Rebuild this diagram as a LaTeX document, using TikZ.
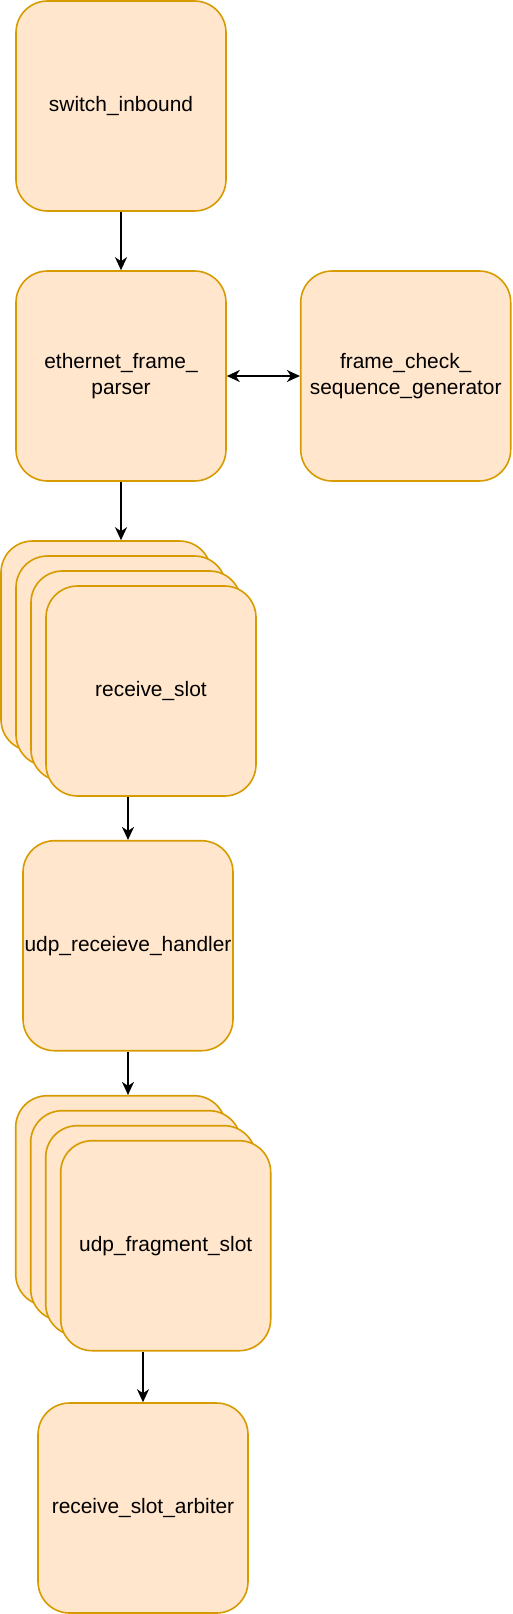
\documentclass[tikz,border=0pt]{standalone}
\usepackage{fontspec}
\setmainfont{Liberation Sans}
\usetikzlibrary{arrows.meta}
\definecolor{boxfill}{HTML}{FFE6CC}
\definecolor{boxdraw}{HTML}{D79B00}
\tikzset{
  blk/.style={draw=boxdraw, fill=boxfill, line width=1.6pt, rounded corners=31.5pt,
    minimum width=210pt, minimum height=210pt, inner sep=0pt, align=center,
    font=\fontsize{20.9}{25.3}\selectfont, text=black},
  conn/.style={line width=1.6pt, draw=black, -{Stealth[length=13pt, width=12pt, inset=4pt]}},
  conn2/.style={line width=1.6pt, draw=black, {Stealth[length=13pt, width=12pt, inset=4pt]}-{Stealth[length=13pt, width=12pt, inset=4pt]}}
}
\begin{document}
\begin{tikzpicture}[x=1pt,y=-1pt]
\useasboundingbox (0,0) rectangle (512,1614);
\node[blk] (sw) at (121,106) {switch\_inbound};
\node[blk] (parser) at (121,376) {ethernet\_frame\_\\parser};
\node[blk] (fcs) at (405.7,376) {frame\_check\_\\sequence\_generator};
\node[blk] (rs1) at (106,646) {};
\node[blk] (rs2) at (121,661) {};
\node[blk] (rs3) at (136,676) {};
\node[blk] (rs4) at (151,691) {receive\_slot};
\node[blk] (handler) at (128,945.7) {udp\_receieve\_handler};
\node[blk] (fr1) at (120.7,1200.7) {};
\node[blk] (fr2) at (135.7,1215.7) {};
\node[blk] (fr3) at (150.7,1230.7) {};
\node[blk] (fr4) at (165.7,1245.7) {udp\_fragment\_slot};
\node[blk] (arb) at (143,1508) {receive\_slot\_arbiter};
\coordinate (rsin) at (parser.south |- rs1.north);
\coordinate (rsout) at (handler.north |- rs4.south);
\coordinate (frin) at (handler.south |- fr1.north);
\coordinate (frout) at (arb.north |- fr4.south);
\draw[conn] (sw) -- (parser);
\draw[conn2] (parser) -- (fcs);
\draw[conn] (parser.south) -- (rsin);
\draw[conn] (rsout) -- (handler.north);
\draw[conn] (handler.south) -- (frin);
\draw[conn] (frout) -- (arb.north);
\end{tikzpicture}
\end{document}
